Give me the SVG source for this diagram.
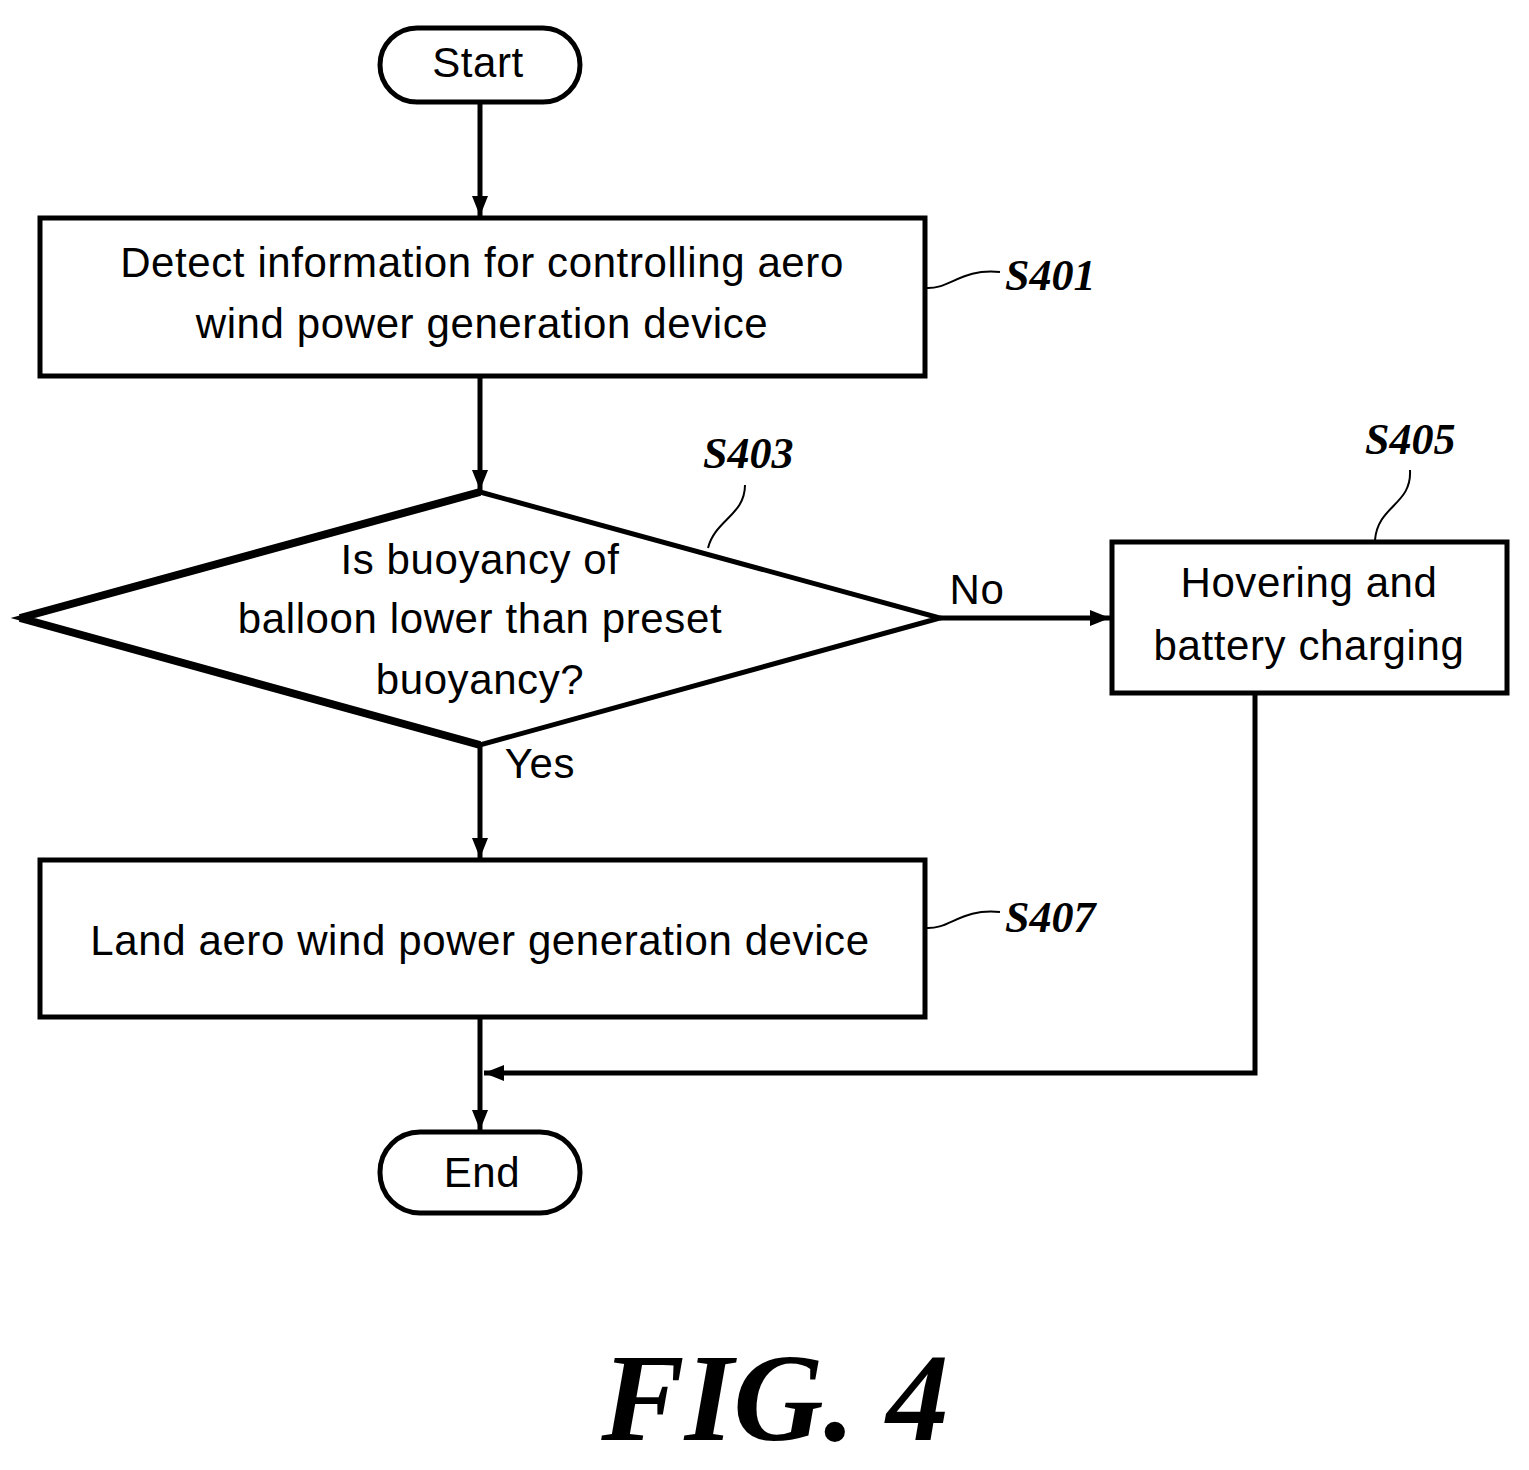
<svg xmlns="http://www.w3.org/2000/svg" width="1529" height="1470" viewBox="0 0 1529 1470">
<style>
.b{fill:#fff;stroke:#000;stroke-width:5}
.t{font-family:"Liberation Sans",Arial,sans-serif;font-size:42px;letter-spacing:0.6px;text-anchor:middle;fill:#000}
.l{font-family:"Liberation Serif","Times New Roman",serif;font-size:44px;font-weight:bold;font-style:italic;fill:#000}
.c{fill:none;stroke:#000;stroke-width:5}
.s{fill:none;stroke:#000;stroke-width:2}
</style>
<defs>
<marker id="ah" viewBox="0 0 20 16" refX="20" refY="8" markerWidth="20" markerHeight="16" orient="auto" markerUnits="userSpaceOnUse"><path d="M0,0 L20,8 L0,16 z" fill="#000"/></marker></defs>
<rect width="1529" height="1470" fill="#fff"/>
<g id="connectors">
<line class="c" x1="480" y1="102" x2="480" y2="216" marker-end="url(#ah)"/>
<line class="c" x1="480" y1="376" x2="480" y2="490" marker-end="url(#ah)"/>
<line class="c" x1="940" y1="618" x2="1110" y2="618" marker-end="url(#ah)"/>
<line class="c" x1="480" y1="745" x2="480" y2="858" marker-end="url(#ah)"/>
<line class="c" x1="480" y1="1017" x2="480" y2="1130" marker-end="url(#ah)"/>
<polyline class="c" points="1255,693 1255,1073 484,1073" marker-end="url(#ah)"/>
<text class="t" x="977" y="604">No</text>
<text class="t" x="540" y="778">Yes</text>
</g>
<g id="start"><rect class="b" x="380" y="28" width="200" height="74" rx="37"/><text class="t" x="478" y="77">Start</text></g>
<g id="s401"><rect class="b" x="40" y="218" width="885" height="158"/>
<text class="t" x="482" y="277">Detect information for controlling aero</text>
<text class="t" x="482" y="338">wind power generation device</text>
<path class="s" d="M925,288 C950,290 960,268 1000,272"/><text class="l" x="1005" y="290">S401</text></g>
<g id="s403"><polygon class="b" points="480,492 940,618 480,745 20,618"/>
<path d="M20,618 L480,745 M20,618 L480,492" stroke="#000" stroke-width="8" fill="none"/>
<text class="t" x="480" y="574">Is buoyancy of</text>
<text class="t" x="480" y="633">balloon lower than preset</text>
<text class="t" x="480" y="694">buoyancy?</text>
<path class="s" d="M708,548 C715,520 745,515 745,485"/><text class="l" x="703" y="468">S403</text></g>
<g id="s405"><rect class="b" x="1112" y="542" width="395" height="151"/>
<text class="t" x="1309" y="597">Hovering and</text>
<text class="t" x="1309" y="660">battery charging</text>
<path class="s" d="M1375,540 C1378,505 1412,505 1410,470"/><text class="l" x="1365" y="454">S405</text></g>
<g id="s407"><rect class="b" x="40" y="860" width="885" height="157"/>
<text class="t" x="480" y="955">Land aero wind power generation device</text>
<path class="s" d="M925,928 C950,930 960,908 1000,912"/><text class="l" x="1005" y="932">S407</text></g>
<g id="end"><rect class="b" x="380" y="1132" width="200" height="81" rx="40"/><text class="t" x="482" y="1187">End</text></g>
<text x="775" y="1440" font-family="'Liberation Serif',serif" font-size="125" font-weight="bold" font-style="italic" text-anchor="middle">FIG. 4</text>
</svg>
